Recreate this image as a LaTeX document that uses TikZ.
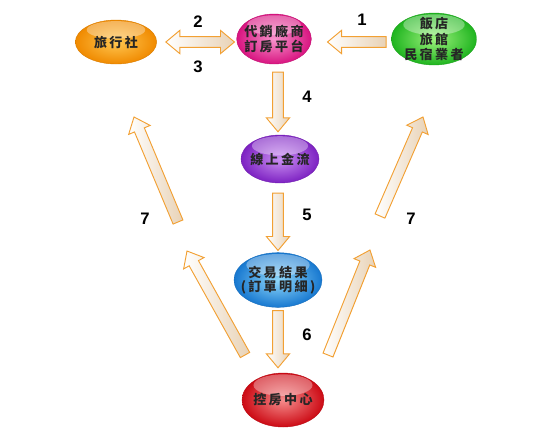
\documentclass[tikz,border=0pt]{standalone}
\usepackage{fontspec}
\setmainfont{Liberation Sans}
\newfontfamily\cjk[LetterSpace=18]{Noto Sans CJK TC}
\usetikzlibrary{shapes.geometric,calc}

\definecolor{arrline}{HTML}{F2A033}
\definecolor{arrfill}{HTML}{E8D2B6}
\definecolor{orgin}{HTML}{FFC650}
\definecolor{orgout}{HTML}{F08A00}
\definecolor{pnkin}{HTML}{F794CC}
\definecolor{pnkout}{HTML}{D81480}
\definecolor{grnin}{HTML}{9CF27C}
\definecolor{grnout}{HTML}{1FB41F}
\definecolor{vioin}{HTML}{CB90F2}
\definecolor{vioout}{HTML}{7D22C2}
\definecolor{bluin}{HTML}{90D8FA}
\definecolor{bluout}{HTML}{1778D0}
\definecolor{redin}{HTML}{F68C8C}
\definecolor{redout}{HTML}{CC0A14}

\tikzset{
    blob/.style 2 args={ellipse, draw=#2!90!black, line width=0.3pt, inner color=#1, outer color=#2,
        path picture={\path let \p1=(path picture bounding box.north east), \p2=(path picture bounding box.south west) in
            [fill=white, fill opacity=.35] ($(path picture bounding box.center)!.55!(path picture bounding box.north)$)
            ellipse [x radius={0.36*(\x1-\x2)}, y radius={0.2*(\y1-\y2)}];}},
    txt/.style={font=\cjk\bfseries\fontsize{9.8}{12.5}\selectfont, text=black!85, align=center},
    num/.style={font=\bfseries\fontsize{12.5}{14}\selectfont},
    fat/.style={draw=arrline, line width=0.7pt, line join=miter, left color=white, right color=arrfill}
}

% block arrow, tail -> tip
\newcommand\fatarrow[2]{%
    \coordinate (hb) at ($(#2)!10.5pt!(#1)$);
    \path[fat] ($(#1)!4pt!90:(#2)$) -- ($(hb)!4pt!90:(#2)$) -- ($(hb)!8.75pt!90:(#2)$) -- (#2)
        -- ($(hb)!8.75pt!-90:(#2)$) -- ($(hb)!4pt!-90:(#2)$) -- ($(#1)!4pt!-90:(#2)$) -- cycle;}
% block arrow with two heads
\newcommand\dblarrow[2]{%
    \coordinate (ha) at ($(#1)!10.5pt!(#2)$);
    \coordinate (hb) at ($(#2)!10.5pt!(#1)$);
    \path[fat] (#1) -- ($(ha)!8.75pt!90:(#2)$) -- ($(ha)!4pt!90:(#2)$) -- ($(hb)!4pt!90:(#2)$)
        -- ($(hb)!8.75pt!90:(#2)$) -- (#2) -- ($(hb)!8.75pt!-90:(#2)$) -- ($(hb)!4pt!-90:(#2)$)
        -- ($(ha)!4pt!-90:(#2)$) -- ($(ha)!8.75pt!-90:(#2)$) -- cycle;}

\begin{document}
\begin{tikzpicture}[x=0.75pt, y=-0.75pt]
    \useasboundingbox (0,0) rectangle (550,440);

    \node[blob={orgin}{orgout}, minimum width=61pt, minimum height=33pt,
        label={[txt]center:旅行社}] (travel) at (116,42) {};
    \node[blob={pnkin}{pnkout}, minimum width=56pt, minimum height=37.5pt,
        label={[txt]center:代銷廠商\\[-1pt]訂房平台}] (hub) at (274,39) {};
    \node[blob={grnin}{grnout}, minimum width=64pt, minimum height=39pt,
        label={[txt, font=\cjk\bfseries\fontsize{9.8}{11.5}\selectfont]center:飯店\\旅館\\民宿業者}] (hotel) at (434,39) {};
    \node[blob={vioin}{vioout}, minimum width=58.5pt, minimum height=36pt,
        label={[txt]center:線上金流}] (pay) at (280,159) {};
    \node[blob={bluin}{bluout}, minimum width=66pt, minimum height=41pt,
        label={[txt, font=\cjk\bfseries\fontsize{9.8}{10.5}\selectfont]center:交易結果\\(訂單明細)}] (result) at (278,280) {};
    \node[blob={redin}{redout}, minimum width=61.5pt, minimum height=40.5pt,
        label={[txt]center:控房中心}] (room) at (283,400) {};

    % arrow ends
    \coordinate (e2a) at ($(travel.east)+(9,0)$);
    \coordinate (e2b) at ($(hub.west)+(-2,3)$);
    \coordinate (e1a) at ($(hotel.west)+(-5,3)$);
    \coordinate (e1b) at ($(hub.east)+(16,3)$);
    \coordinate (e4a) at ($(hub.south)+(4,8)$);
    \coordinate (e4b) at ($(pay.north)+(-2,-3)$);
    \coordinate (e5a) at ($(pay.south)+(-2,10)$);
    \coordinate (e5b) at ($(result.north)+(0,-2)$);
    \coordinate (e6a) at ($(result.south)+(0,3)$);
    \coordinate (e6b) at ($(room.north)+(-5,-5)$);
    \coordinate (l1a) at (245,355);
    \coordinate (l1b) at (187,251);
    \coordinate (l2a) at (178,222);
    \coordinate (l2b) at (134,117);
    \coordinate (r1a) at (328,355);
    \coordinate (r1b) at (370,250);
    \coordinate (r2a) at (380,216);
    \coordinate (r2b) at (423,117);

    \dblarrow{e2a}{e2b}
    \fatarrow{e1a}{e1b}
    \fatarrow{e4a}{e4b}
    \fatarrow{e5a}{e5b}
    \fatarrow{e6a}{e6b}
    \fatarrow{l1a}{l1b}
    \fatarrow{l2a}{l2b}
    \fatarrow{r1a}{r1b}
    \fatarrow{r2a}{r2b}

    \node[num] (n1) at (362,20) {1};
    \node[num] (n2) at (198,22) {2};
    \node[num] (n3) at (198,67) {3};
    \node[num] (n4) at (307,97) {4};
    \node[num] (n5) at (307,215) {5};
    \node[num] (n6) at (307,335) {6};
    \node[num] (n7l) at (145,219) {7};
    \node[num] (n7r) at (411,219) {7};
\end{tikzpicture}
\end{document}
